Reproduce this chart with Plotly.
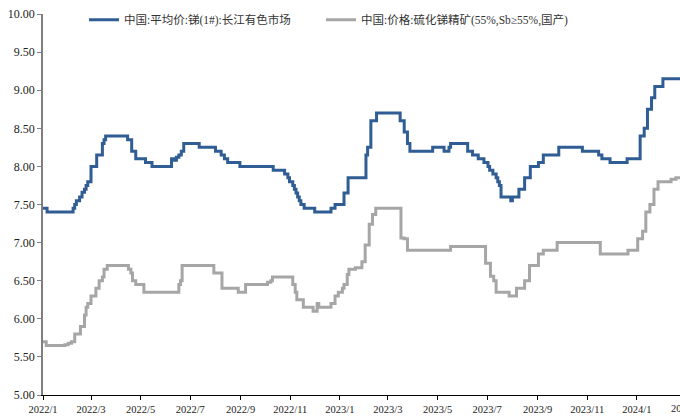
import plotly.graph_objects as go

# 中国:平均价:锑(1#):长江有色市场  (change points, step data)
sb_dates = [
    "2022-01-01", "2022-01-06", "2022-02-07", "2022-02-09", "2022-02-11", "2022-02-15",
    "2022-02-18", "2022-02-21", "2022-02-23", "2022-02-25", "2022-03-01", "2022-03-08",
    "2022-03-15", "2022-03-17", "2022-03-19", "2022-04-15", "2022-04-20", "2022-04-25",
    "2022-05-07", "2022-05-15", "2022-06-08", "2022-06-11", "2022-06-14", "2022-06-17",
    "2022-06-20", "2022-06-23", "2022-07-12", "2022-08-01", "2022-08-08", "2022-08-12",
    "2022-08-16", "2022-08-31", "2022-10-11", "2022-10-25", "2022-10-29", "2022-10-31",
    "2022-11-04", "2022-11-06", "2022-11-08", "2022-11-10", "2022-11-12", "2022-11-14",
    "2022-11-18", "2022-12-01", "2022-12-21", "2022-12-26", "2023-01-06", "2023-01-11",
    "2023-02-02", "2023-02-04", "2023-02-08", "2023-02-15", "2023-03-16", "2023-03-21",
    "2023-03-25", "2023-03-28", "2023-04-25", "2023-05-09", "2023-05-15", "2023-05-17",
    "2023-06-07", "2023-06-13", "2023-06-20", "2023-06-27", "2023-07-02", "2023-07-04",
    "2023-07-08", "2023-07-12", "2023-07-14", "2023-07-16", "2023-07-18", "2023-07-30",
    "2023-08-01", "2023-08-09", "2023-08-16", "2023-08-23", "2023-09-02", "2023-09-08",
    "2023-09-27", "2023-10-26", "2023-11-15", "2023-11-19", "2023-11-29", "2023-12-20",
    "2024-01-05", "2024-01-10", "2024-01-14", "2024-01-19", "2024-01-23", "2024-02-02",
    "2024-02-23",
]
sb_values = [
    7.45, 7.40, 7.45, 7.50, 7.55, 7.60,
    7.66, 7.70, 7.75, 7.80, 8.00, 8.15,
    8.30, 8.35, 8.40, 8.35, 8.20, 8.10,
    8.05, 8.00, 8.10, 8.08, 8.12, 8.15,
    8.20, 8.30, 8.25, 8.20, 8.15, 8.10,
    8.05, 8.00, 7.95, 7.90, 7.85, 7.80,
    7.75, 7.70, 7.65, 7.60, 7.55, 7.50,
    7.45, 7.40, 7.45, 7.50, 7.65, 7.85,
    8.15, 8.25, 8.60, 8.70, 8.60, 8.45,
    8.30, 8.20, 8.25, 8.20, 8.25, 8.30,
    8.20, 8.15, 8.10, 8.05, 8.00, 7.95,
    7.90, 7.85, 7.80, 7.75, 7.60, 7.55,
    7.60, 7.70, 7.85, 8.00, 8.05, 8.15,
    8.25, 8.20, 8.15, 8.10, 8.05, 8.10,
    8.40, 8.50, 8.75, 8.90, 9.05, 9.15,
    9.15,
]

# 中国:价格:硫化锑精矿(55%,Sb≥55%,国产)
ore_dates = [
    "2022-01-01", "2022-01-05", "2022-01-28", "2022-02-01", "2022-02-05", "2022-02-09",
    "2022-02-16", "2022-02-21", "2022-02-23", "2022-02-25", "2022-03-01", "2022-03-07",
    "2022-03-11", "2022-03-15", "2022-03-17", "2022-03-21", "2022-04-16", "2022-04-19",
    "2022-04-21", "2022-04-25", "2022-05-05", "2022-06-17", "2022-06-19", "2022-06-21",
    "2022-07-30", "2022-08-09", "2022-08-29", "2022-09-07", "2022-10-04", "2022-10-08",
    "2022-10-10", "2022-11-04", "2022-11-07", "2022-11-09", "2022-11-17", "2022-11-29",
    "2022-12-04", "2022-12-06", "2022-12-21", "2022-12-26", "2022-12-30", "2023-01-04",
    "2023-01-06", "2023-01-10", "2023-01-12", "2023-01-20", "2023-01-28", "2023-02-01",
    "2023-02-06", "2023-02-10", "2023-02-14", "2023-03-17", "2023-03-21", "2023-03-25",
    "2023-05-17", "2023-06-29", "2023-07-05", "2023-07-09", "2023-07-12", "2023-07-28",
    "2023-08-06", "2023-08-16", "2023-08-22", "2023-09-02", "2023-09-08", "2023-09-25",
    "2023-11-17", "2023-12-21", "2024-01-02", "2024-01-08", "2024-01-12", "2024-01-17",
    "2024-01-22", "2024-01-27", "2024-02-12", "2024-02-18", "2024-02-23",
]
ore_values = [
    5.70, 5.65, 5.66, 5.68, 5.70, 5.80,
    5.90, 6.05, 6.15, 6.20, 6.30, 6.40,
    6.50, 6.55, 6.65, 6.70, 6.65, 6.60,
    6.50, 6.45, 6.35, 6.45, 6.50, 6.70,
    6.60, 6.40, 6.35, 6.45, 6.48, 6.50,
    6.55, 6.45, 6.35, 6.25, 6.15, 6.10,
    6.20, 6.15, 6.20, 6.30, 6.35, 6.40,
    6.45, 6.58, 6.65, 6.67, 6.75, 6.97,
    7.24, 7.37, 7.45, 7.06, 7.05, 6.90,
    6.95, 6.73, 6.56, 6.50, 6.35, 6.30,
    6.40, 6.50, 6.70, 6.85, 6.90, 7.00,
    6.85, 6.90, 7.05, 7.15, 7.40, 7.50,
    7.70, 7.80, 7.83, 7.85, 7.85,
]

x_tick_vals = ["2022-01-01", "2022-03-01", "2022-05-01", "2022-07-01", "2022-09-01",
               "2022-11-01", "2023-01-01", "2023-03-01", "2023-05-01", "2023-07-01",
               "2023-09-01", "2023-11-01", "2024-01-01"]
x_tick_text = ["2022/1", "2022/3", "2022/5", "2022/7", "2022/9", "2022/11", "2023/1",
               "2023/3", "2023/5", "2023/7", "2023/9", "2023/11", "2024/1"]
y_tick_vals = [5.0, 5.5, 6.0, 6.5, 7.0, 7.5, 8.0, 8.5, 9.0, 9.5, 10.0]

name_sb = "中国:平均价:锑(1#):长江有色市场"
name_ore = "中国:价格:硫化锑精矿(55%,Sb≥55%,国产)"

FONT = "Liberation Serif, 'Noto Sans CJK SC', serif"
LEG_FONT = dict(family=FONT, size=11.5, color="#333333")

fig = go.Figure()
fig.add_trace(go.Scatter(x=sb_dates, y=sb_values, mode="lines", name=name_sb,
                         legend="legend",
                         line=dict(color="#2F5D94", width=3, shape="hv")))
fig.add_trace(go.Scatter(x=ore_dates, y=ore_values, mode="lines", name=name_ore,
                         legend="legend2",
                         line=dict(color="#A6A6A6", width=3, shape="hv")))

fig.update_layout(
    width=680, height=416,
    margin=dict(l=43, r=0, t=14, b=21),
    paper_bgcolor="white", plot_bgcolor="white",
    font=dict(family=FONT, size=12, color="#222222"),
    showlegend=True,
    legend=dict(orientation="h", x=0.0644, y=0.985, xanchor="left", yanchor="middle",
                font=LEG_FONT, bgcolor="rgba(0,0,0,0)"),
    legend2=dict(orientation="h", x=0.4364, y=0.985, xanchor="left", yanchor="middle",
                 font=LEG_FONT, bgcolor="rgba(0,0,0,0)"),
    xaxis=dict(type="date", range=["2022-01-01", "2024-02-23"],
               tickvals=x_tick_vals, ticktext=x_tick_text,
               showgrid=False, zeroline=False,
               showline=True, linecolor="#000000", linewidth=1,
               ticks="outside", ticklen=4, tickcolor="#000000", tickwidth=1,
               tickfont=dict(family=FONT, size=10.5, color="#222222")),
    yaxis=dict(range=[5, 10], tickvals=y_tick_vals, tickformat=".2f",
               showgrid=False, zeroline=False,
               showline=True, linecolor="#7F7F7F", linewidth=1.5,
               ticks="outside", ticklen=4, tickcolor="#7F7F7F", tickwidth=1,
               tickfont=dict(family=FONT, size=12, color="#222222")),
    annotations=[dict(text="2024/3", xref="paper", yref="paper",
                      x=(685.1 - 43) / 637, y=0, yshift=-13, xanchor="center",
                      yanchor="middle", showarrow=False,
                      font=dict(family=FONT, size=10.5, color="#222222"))],
)

fig.write_html("out.html",
               config={"displayModeBar": False},
               post_script="document.body.style.margin='0px';"
                           "document.body.style.overflow='hidden';")
